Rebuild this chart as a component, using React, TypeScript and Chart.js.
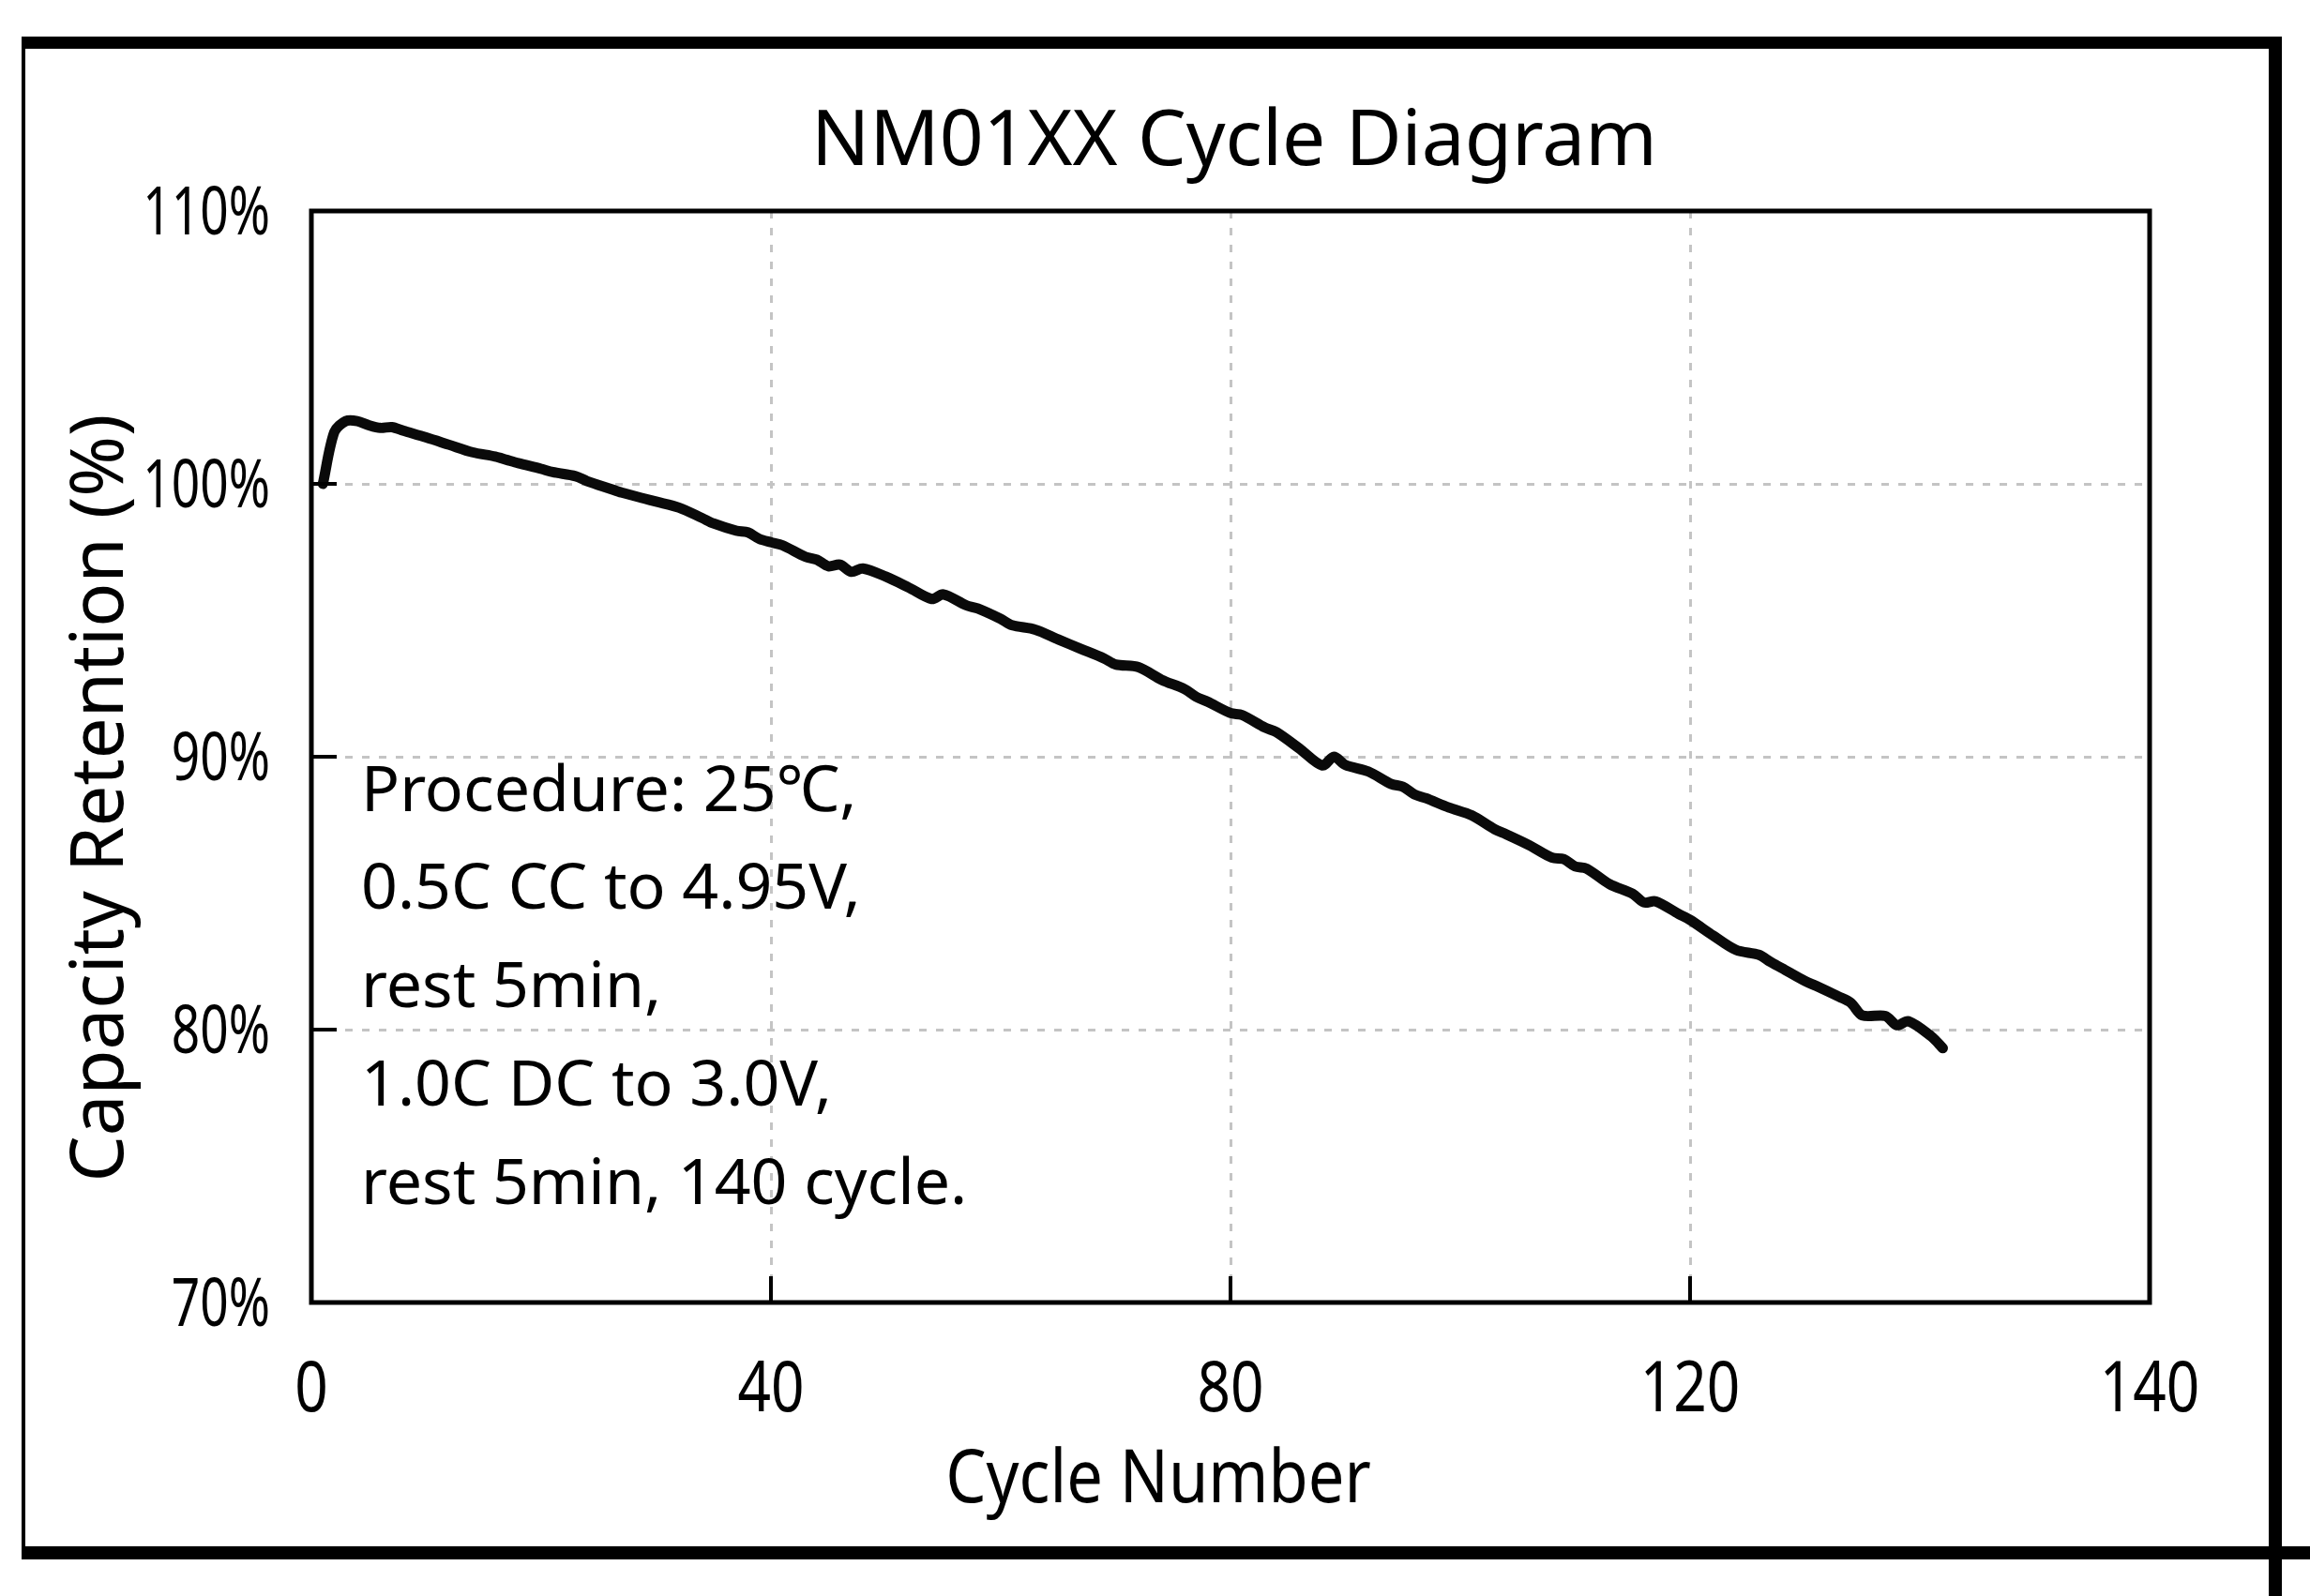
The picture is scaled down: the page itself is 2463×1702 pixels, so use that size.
import React, { useEffect, useRef } from "react";
import { Chart, registerables, Plugin } from "chart.js";

Chart.register(...registerables);

// cycle number / capacity retention (%)
const CYCLES = [
    1, 2, 3, 4, 5, 6, 7, 8, 10, 12, 14, 16, 17, 18, 20, 21, 23, 24, 26, 27,
    29, 30, 32, 34, 35, 37, 38, 39, 40, 41, 43, 44, 45, 46, 47, 48, 50, 52,
    54, 55, 57, 58, 60, 61, 63, 65, 67, 69, 70, 72, 74, 76, 77, 78, 80, 81,
    83, 84, 86, 88, 89, 90, 92, 94, 95, 96, 97, 99, 101, 103, 104, 106, 108,
    109, 110, 111, 113, 115, 116, 117, 119, 120, 122, 124, 126, 127, 128, 130,
    131, 133, 134, 135, 137, 138, 139, 141, 142
];
const RETENTION = [
    100.0, 101.9, 102.3, 102.3, 102.15, 102.05, 102.08, 101.95, 101.7, 101.43,
    101.16, 101.0, 100.88, 100.76, 100.55, 100.43, 100.28, 100.1, 99.82, 99.68,
    99.46, 99.35, 99.13, 98.75, 98.55, 98.28, 98.22, 97.98, 97.86, 97.75,
    97.33, 97.22, 96.98, 97.04, 96.78, 96.9, 96.6, 96.2, 95.78, 95.95,
    95.55, 95.43, 95.05, 94.82, 94.66, 94.3, 93.95, 93.6, 93.38, 93.28,
    92.82, 92.48, 92.2, 92.02, 91.6, 91.53, 91.07, 90.9, 90.3, 89.68,
    90.0, 89.7, 89.46, 89.0, 88.9, 88.62, 88.48, 88.14, 87.85, 87.34,
    87.16, 86.76, 86.3, 86.25, 85.98, 85.9, 85.33, 84.98, 84.66, 84.7,
    84.24, 84.02, 83.45, 82.92, 82.74, 82.48, 82.25, 81.78, 81.6, 81.2,
    80.98, 80.52, 80.5, 80.16, 80.31, 79.75, 79.32
];

const X_TICK_LABELS = ["0", "40", "80", "120", "140"];
const Y_TICK_SUFFIX = "%";

const TITLE = "NM01XX Cycle Diagram";
const X_TITLE = "Cycle Number";
const Y_TITLE = "Capacity Retention (%)";
const NOTE_LINES = [
    "Procedure: 25℃,",
    "0.5C CC to 4.95V,",
    "rest 5min,",
    "1.0C DC to 3.0V,",
    "rest 5min, 140 cycle."
];

const W = 2463;
const H = 1702;
const SANS = '"Noto Sans", "Open Sans", "Noto Sans CJK SC", sans-serif';

const isInner = (v: number, min: number, max: number) => v > min && v < max;

// text squeezed horizontally, the reference uses a narrow face
const squeezed = (ctx: CanvasRenderingContext2D, text: string, x: number, y: number, sx: number) => {
    ctx.save();
    ctx.translate(x, y);
    ctx.scale(sx, 1);
    ctx.fillText(text, 0, 0);
    ctx.restore();
};

// plot frame, inward tick marks, tick labels and free text
const decorPlugin: Plugin<"line"> = {
    id: "decor",
    afterDraw: (chart) => {
        const { ctx, chartArea: a, scales } = chart;
        const xs = scales.x;
        const ys = scales.y;
        ctx.save();

        ctx.strokeStyle = "#000";
        ctx.lineWidth = 5;
        ctx.strokeRect(a.left, a.top, a.right - a.left, a.bottom - a.top);

        ctx.lineWidth = 4;
        ctx.beginPath();
        ys.ticks.forEach((t) => {
            if (!isInner(t.value, ys.min, ys.max)) return;
            const y = ys.getPixelForValue(t.value);
            ctx.moveTo(a.left, y);
            ctx.lineTo(a.left + 27, y);
        });
        xs.ticks.forEach((t) => {
            if (!isInner(t.value, xs.min, xs.max)) return;
            const x = xs.getPixelForValue(t.value);
            ctx.moveTo(x, a.bottom);
            ctx.lineTo(x, a.bottom - 28);
        });
        ctx.stroke();

        ctx.fillStyle = "#000";
        ctx.textBaseline = "alphabetic";

        // tick labels
        ctx.font = `74px ${SANS}`;
        ctx.textAlign = "center";
        xs.ticks.forEach((t, i) => {
            squeezed(ctx, X_TICK_LABELS[i], xs.getPixelForValue(t.value), a.bottom + 116, 0.84);
        });
        ctx.font = `71px ${SANS}`;
        ctx.textAlign = "right";
        ys.ticks.forEach((t) => {
            squeezed(ctx, `${t.value}${Y_TICK_SUFFIX}`, a.left - 44, ys.getPixelForValue(t.value) + 25, 0.75);
        });

        ctx.textAlign = "center";
        ctx.font = `82px ${SANS}`;
        ctx.fillText(TITLE, (a.left + a.right) / 2 + 4, a.top - 49);

        ctx.font = `78px ${SANS}`;
        squeezed(ctx, X_TITLE, 1235, 1602, 0.88);

        ctx.save();
        ctx.translate(131, 851);
        ctx.rotate(-Math.PI / 2);
        ctx.font = `78px ${SANS}`;
        ctx.fillText(Y_TITLE, 0, 0);
        ctx.restore();

        ctx.textAlign = "left";
        ctx.font = `68px ${SANS}`;
        const baselines = [865, 969, 1074, 1179, 1284];
        NOTE_LINES.forEach((line, i) => ctx.fillText(line, 385, baselines[i]));

        ctx.restore();
    }
};

const gridColor = (min: number, max: number) => (c: any) =>
    isInner(c.tick?.value, min, max) ? "#c4c4c4" : "rgba(0,0,0,0)";

const App: React.FC = () => {
    const canvasRef = useRef<HTMLCanvasElement | null>(null);
    const chartRef = useRef<Chart<"line"> | null>(null);

    useEffect(() => {
        document.body.style.margin = "0";
        document.body.style.overflow = "hidden";
        if (!canvasRef.current) return;
        chartRef.current?.destroy();

        chartRef.current = new Chart(canvasRef.current, {
            type: "line",
            data: {
                datasets: [
                    {
                        data: CYCLES.map((c, i) => ({ x: c, y: RETENTION[i] })),
                        borderColor: "#0a0a0a",
                        borderWidth: 11,
                        borderCapStyle: "round",
                        borderJoinStyle: "round",
                        pointRadius: 0,
                        tension: 0.3,
                        fill: false
                    }
                ]
            },
            options: {
                responsive: false,
                animation: false,
                layout: { padding: { left: 0, right: W - 2292, top: 225, bottom: 0 } },
                plugins: {
                    legend: { display: false },
                    tooltip: { enabled: false },
                    title: { display: false }
                },
                scales: {
                    x: {
                        type: "linear",
                        min: 0,
                        max: 160,
                        afterFit: (s) => { s.height = H - 1389; },
                        border: { display: false, dash: [8, 10] },
                        grid: { color: gridColor(0, 160), lineWidth: 3, drawTicks: false },
                        ticks: { stepSize: 40, autoSkip: false, display: false }
                    },
                    y: {
                        min: 70,
                        max: 110,
                        afterFit: (s) => { s.width = 332; },
                        border: { display: false, dash: [8, 10] },
                        grid: { color: gridColor(70, 110), lineWidth: 3, drawTicks: false },
                        ticks: { stepSize: 10, display: false }
                    }
                }
            },
            plugins: [decorPlugin]
        });

        return () => {
            chartRef.current?.destroy();
            chartRef.current = null;
        };
    }, []);

    const line = (style: React.CSSProperties) => (
        <div style={{ position: "absolute", background: "#000", ...style }} />
    );

    return (
        <div style={{ position: "relative", width: W, height: H, background: "#fff", overflow: "hidden" }}>
            <canvas ref={canvasRef} width={W} height={H} style={{ position: "absolute", left: 0, top: 0, width: W, height: H }} />
            {line({ left: 23, top: 39, width: 2410, height: 13 })}
            {line({ left: 23, top: 39, width: 4, height: 1624 })}
            {line({ left: 2419, top: 39, width: 14, height: H - 39 })}
            {line({ left: 23, top: 1649, width: W - 23, height: 14 })}
        </div>
    );
};

export default App;
